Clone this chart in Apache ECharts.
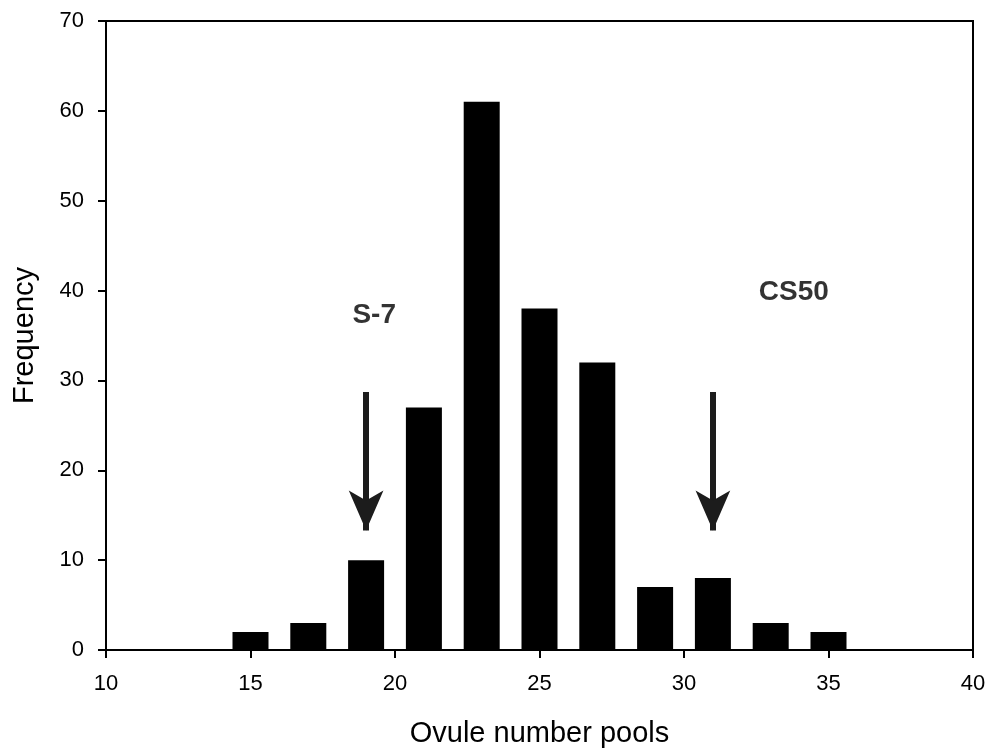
<!DOCTYPE html>
<html lang="en">
<head>
    <meta charset="UTF-8">
    <title>Ovule number pools</title>
    <script src="https://cdn.jsdelivr.net/npm/echarts@6/dist/echarts.min.js"></script>
    <style>
        html, body { margin: 0; padding: 0; background: #fff; }
        #chart { width: 990px; height: 748px; }
    </style>
</head>
<body>
    <div id="chart"></div>
    <script type="text/javascript">
       // bin centres and frequencies
       var pools = [15, 17, 19, 21, 23, 25, 27, 29, 31, 33, 35];
       var frequency = [2, 3, 10, 27, 61, 38, 32, 7, 8, 3, 2];
       // arrows: x, from y, to y
       var arrowX = [19, 31];
       var arrowFrom = 28.7;
       var arrowTo = 13.3;
       // annotations
       var noteNames = ['S-7', 'CS50'];
       var notePos = [[19.28, 37.2], [33.8, 39.8]];

       var font = '"Liberation Sans", Arial, sans-serif';
       var myChart = echarts.init(document.getElementById('chart'));

       var barData = [];
       for (var i = 0; i < pools.length; i++) {
           barData.push([pools[i], frequency[i]]);
       }
       var arrowLines = [];
       for (var j = 0; j < arrowX.length; j++) {
           arrowLines.push([{ coord: [arrowX[j], arrowFrom] }, { coord: [arrowX[j], arrowTo] }]);
       }
       var notes = [];
       for (var k = 0; k < noteNames.length; k++) {
           notes.push({ name: noteNames[k], value: notePos[k] });
       }

       var option = {
           animation: false,
           backgroundColor: '#fff',
           grid: {
               left: 106, right: 17, top: 21, bottom: 98,
               outerBoundsMode: 'none',
               show: true, borderColor: '#000', borderWidth: 2
           },
           xAxis: {
               type: 'value',
               min: 10, max: 40, interval: 5,
               name: 'Ovule number pools',
               nameLocation: 'middle',
               nameGap: 69,
               nameTextStyle: { fontFamily: font, fontSize: 29, color: '#000' },
               axisLine: { show: true, lineStyle: { color: '#000', width: 2 } },
               axisTick: { show: true, length: 8, lineStyle: { color: '#000', width: 2 } },
               axisLabel: { fontFamily: font, fontSize: 22, color: '#000', margin: 23 },
               splitLine: { show: false }
           },
           yAxis: {
               type: 'value',
               min: 0, max: 70, interval: 10,
               name: 'Frequency',
               nameLocation: 'middle',
               nameGap: 67,
               nameTextStyle: { fontFamily: font, fontSize: 29, color: '#000' },
               axisLine: { show: true, lineStyle: { color: '#000', width: 2 } },
               axisTick: { show: true, length: 8, lineStyle: { color: '#000', width: 2 } },
               axisLabel: { fontFamily: font, fontSize: 22, color: '#000', margin: 22 },
               splitLine: { show: false }
           },
           series: [{
               type: 'bar',
               data: barData,
               barWidth: 36,
               itemStyle: { color: '#000' },
               markLine: {
                   silent: true,
                   symbol: ['none', 'arrow'],
                   symbolSize: [26, 40],
                   label: { show: false },
                   lineStyle: { type: 'solid', color: '#1c1c1c', width: 6 },
                   data: arrowLines
               }
           }, {
               type: 'scatter',
               symbolSize: 0,
               silent: true,
               data: notes,
               label: {
                   show: true,
                   position: 'inside',
                   formatter: '{b}',
                   fontFamily: font,
                   fontWeight: 'bold',
                   fontSize: 28,
                   color: '#000'
               }
           }]
       };
       myChart.setOption(option);
    </script>
</body>
</html>
